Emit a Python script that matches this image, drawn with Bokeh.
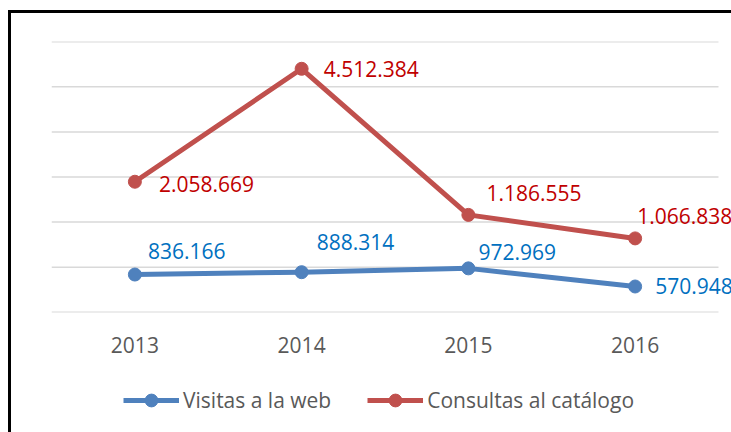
from bokeh.plotting import figure
from bokeh.models import (ColumnDataSource, FactorRange, FixedTicker, Legend,
                          LegendItem, LabelSet, Range1d)
from bokeh.layouts import column
from bokeh.core.properties import value
from bokeh.embed import file_html
from bokeh.resources import INLINE

years = ["2013", "2014", "2015", "2016"]
visitas = [836166, 888314, 972969, 570948]
consultas = [2058669, 4512384, 1186555, 1066838]
y_ticks = [0, 1000000, 2000000, 3000000, 4000000, 5000000, 6000000]
series_names = ["Visitas a la web", "Consultas al catálogo"]

# label placement (screen px offsets from each point)
vis_dx = [13, 15, 10, 20]
vis_dy = [24, 30, 16, 0]
con_dx = [24, 22, 18, 2]
con_dy = [-2, 0, 22, 22]

BLUE = "#4F81BD"
RED = "#C0504D"
BLUE_TXT = "#0070C0"
RED_TXT = "#C00000"
GRAY = "#595959"
GRID = "#D9D9D9"
FONT = "Open Sans"
FS = "21px"

def fmt(v):
    return f"{v:,}".replace(",", ".")

xs = list(range(len(years)))
stacked = [a + b for a, b in zip(visitas, consultas)]

src_v = ColumnDataSource(dict(x=xs, y=visitas, t=[fmt(v) for v in visitas],
                              dx=vis_dx, dy=vis_dy))
src_c = ColumnDataSource(dict(x=xs, y=stacked, t=[fmt(v) for v in consultas],
                              dx=con_dx, dy=con_dy))

# category band is 166.75 px; frame runs 13 px past the last band for the labels
x_lo, x_hi = -0.5, len(years) - 0.5
x_extra = 13 / 166.75

# ---- main chart ----
p = figure(width=720, height=360, x_range=Range1d(x_lo, x_hi + x_extra),
           y_range=Range1d(-6000, 6006000), output_backend="svg", toolbar_location=None,
           min_border_left=40, min_border_right=0, min_border_top=28,
           min_border_bottom=61)
p.outline_line_color = None
p.background_fill_color = "white"
p.grid.visible = False
p.yaxis.visible = False

# horizontal gridlines limited to the category area
p.segment(x0=[x_lo] * len(y_ticks), x1=[x_hi] * len(y_ticks), y0=y_ticks, y1=y_ticks,
          line_color=GRID, line_width=1.5)

p.xaxis.ticker = FixedTicker(ticks=xs)
p.xaxis.major_label_overrides = {i: yr for i, yr in zip(xs, years)}
p.xaxis.axis_line_color = None
p.xaxis.major_tick_line_color = None
p.xaxis.minor_tick_line_color = None
p.xaxis.major_label_text_font = FONT
p.xaxis.major_label_text_font_size = FS
p.xaxis.major_label_text_color = GRAY
p.xaxis.major_label_standoff = 18

p.line("x", "y", source=src_v, line_color=BLUE, line_width=5, line_join="round")
p.scatter("x", "y", source=src_v, size=13, fill_color=BLUE, line_color=BLUE)
p.line("x", "y", source=src_c, line_color=RED, line_width=5, line_join="round")
p.scatter("x", "y", source=src_c, size=13, fill_color=RED, line_color=RED)

for src, col in ((src_v, BLUE_TXT), (src_c, RED_TXT)):
    ls = LabelSet(x="x", y="y", text="t", source=src, x_offset="dx", y_offset="dy",
                  text_font=value(FONT), text_font_size=FS, text_color=col,
                  text_align="left", text_baseline="middle")
    p.add_layout(ls)

# ---- legend strip (same series, data kept out of view) ----
q = figure(width=720, height=59, x_range=Range1d(x_lo, x_hi),
           y_range=Range1d(-2, -1), output_backend="svg", toolbar_location=None,
           min_border=0)
q.axis.visible = False
q.grid.visible = False
q.outline_line_color = None
qlv = q.line("x", "y", source=src_v, line_color=BLUE, line_width=5)
qsv = q.scatter("x", "y", source=src_v, size=13, fill_color=BLUE, line_color=BLUE)
qlc = q.line("x", "y", source=src_c, line_color=RED, line_width=5)
qsc = q.scatter("x", "y", source=src_c, size=13, fill_color=RED, line_color=RED)

legend = Legend(items=[LegendItem(label=series_names[0], renderers=[qlv, qsv]),
                       LegendItem(label=series_names[1], renderers=[qlc, qsc])],
                orientation="horizontal", location=(72, 16),
                glyph_width=56, glyph_height=32, label_standoff=4, spacing=36,
                padding=0, margin=0, border_line_color=None,
                background_fill_alpha=0,
                label_text_font=FONT, label_text_font_size=FS,
                label_text_color=GRAY)
q.add_layout(legend)

layout = column(p, q, spacing=0)
layout.margin = (10, 0, 0, 8)
layout.styles = {"border-top": "3px solid #000000", "border-left": "3px solid #000000"}

open("out.html", "w").write(file_html(layout, INLINE))
